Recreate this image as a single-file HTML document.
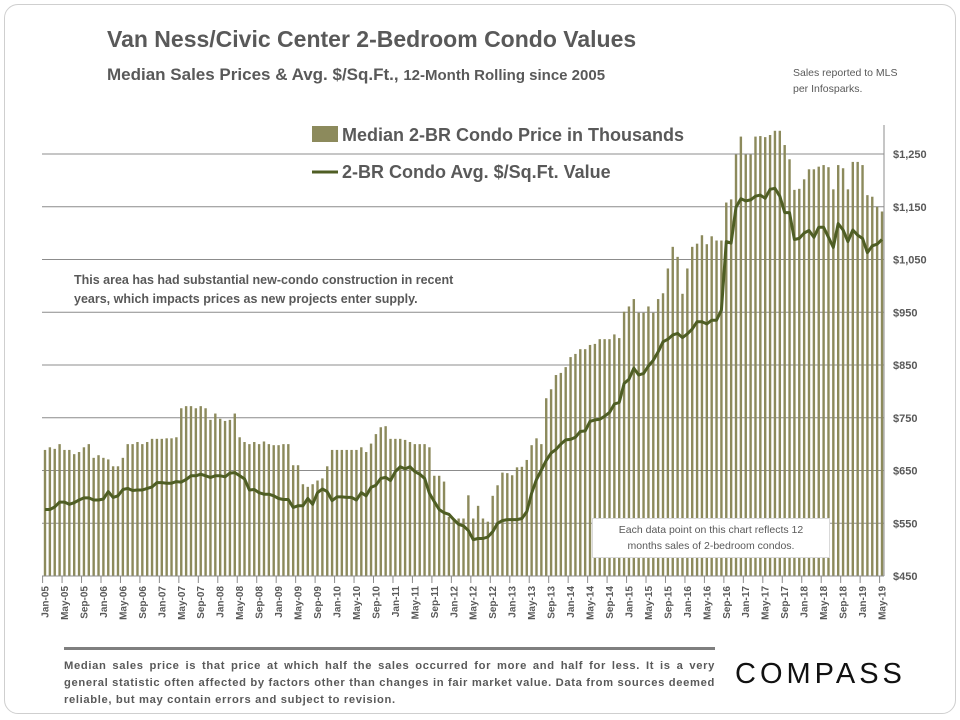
<!DOCTYPE html>
<html><head><meta charset="utf-8">
<style>
html,body{margin:0;padding:0;background:#fff;}
body{width:960px;height:720px;position:relative;overflow:hidden;font-family:"Liberation Sans",sans-serif;}
.frame{position:absolute;left:4px;top:4px;width:950px;height:708px;border:1px solid #cfcfcf;border-radius:14px;}
.t{position:absolute;color:#595959;font-weight:bold;white-space:nowrap;}
</style></head><body>
<div class="frame"></div>
<div class="t" style="left:107px;top:26px;font-size:23px;">Van Ness/Civic Center 2-Bedroom Condo Values</div>
<div class="t" style="left:107px;top:65px;font-size:17px;">Median Sales Prices &amp; Avg. $/Sq.Ft., <span style="font-size:15px">12-Month Rolling since 2005</span></div>
<div class="t" style="left:793px;top:65px;font-size:10.5px;font-weight:normal;line-height:16px;">Sales reported to MLS<br>per Infosparks.</div>
<div class="t" style="left:74px;top:271px;font-size:12.5px;line-height:19px;">This area has had substantial new-condo construction in recent<br>years, which impacts prices as new projects enter supply.</div>
<svg id="chart" width="960" height="720" style="position:absolute;left:0;top:0"></svg>
<div style="position:absolute;left:592px;top:518px;width:238px;height:40px;background:#fff;border:1px solid #d9d9d9;font-size:10.5px;color:#595959;text-align:center;line-height:16px;padding-top:3px;box-sizing:border-box;">Each data point on this chart reflects 12<br>months sales of 2-bedroom condos.</div>
<div style="position:absolute;left:64px;top:647px;width:651px;border-top:3px solid #7f7f7f;padding-top:8px;font-size:11.2px;letter-spacing:0.65px;font-weight:bold;color:#595959;line-height:17px;text-align:justify;">Median sales price is that price at which half the sales occurred for more and half for less. It is a very general statistic often affected by factors other than changes in fair market value. Data from sources deemed reliable, but may contain errors and subject to revision.</div>
<div style="position:absolute;left:735px;top:658px;font-size:29px;letter-spacing:4px;color:#111;font-family:'Liberation Sans',sans-serif;">COMPASS</div>
<script>
const months=["Jan","May","Sep"];
const priceBars=[689,694,691,700,689,689,681,685,694,700,674,679,674,671,658,658,674,700,700,704,700,704,710,710,710,711,711,713,768,772,772,768,772,768,746,758,748,744,746,758,713,704,700,704,700,705,700,
698,698,700,700,660,660,624,619,624,631,635,658,689,689,689,689,689,689,694,685,701,719,732,734,710,710,710,708,704,700,700,700,694,640,640,629,562,559,559,559,603,559,583,559,553,602,622,
646,645,641,656,657,670,698,711,700,787,804,831,835,846,865,871,880,880,888,890,899,899,899,908,901,951,961,975,949,949,961,949,975,986,1033,1074,1055,985,1033,1074,1080,
1096,1079,1094,1086,1086,1158,1164,1249,1283,1249,1249,1283,1284,1282,1286,1294,1294,1267,1240,1182,1184,1202,1221,1221,1226,1229,1225,1183,1229,1223,1183,1235,1235,1229,1172,1169,1150,1141];
const ppsfLine=[576,576,581,590,590,586,589,594,598,598,594,594,596,610,599,602,614,616,612,613,613,616,619,627,627,626,626,629,628,633,640,640,643,640,637,640,640,638,645,646,640,634,613,614,608,605,605,
602,597,595,595,580,583,583,597,586,608,615,610,593,600,600,599,599,594,608,602,618,622,635,637,631,648,657,653,657,648,643,635,607,591,576,570,567,557,548,545,536,519,521,521,524,534,550,
555,557,557,557,559,572,607,633,651,669,683,690,700,708,709,713,724,725,743,746,747,753,760,776,779,815,823,844,831,834,848,859,875,894,899,907,910,902,909,918,932,932,928,935,935,954,
1084,1081,1149,1165,1161,1163,1170,1172,1166,1183,1185,1170,1139,1139,1088,1090,1100,1105,1092,1111,1111,1092,1073,1118,1106,1084,1106,1096,1090,1063,1076,1079,1088];
const yTicks=[450,550,650,750,850,950,1050,1150,1250];
const startYear=2005;

const svg=document.getElementById('chart');
const NS='http://www.w3.org/2000/svg';
const X0=45,X1=882,Y0=576,YT=154;
const n=priceBars.length;
function x(i){return X0+(X1-X0)*i/(n-1);}
function y(v){return Y0-(v-450)*(Y0-YT)/800;}
function mk(tag,attrs){const e=document.createElementNS(NS,tag);for(const k in attrs)e.setAttribute(k,attrs[k]);svg.appendChild(e);return e;}
yTicks.forEach(v=>{
  if(v>450){const g=mk('line',{x1:42,x2:884,y1:y(v),y2:y(v),stroke:'#8c8c8c','stroke-width':1});
  
  }
  const t=mk('text',{x:893,y:y(v)+4,'font-size':11,'font-weight':'bold',fill:'#595959','font-family':'Liberation Sans, sans-serif'});
  t.textContent='$'+(v>=1000?Math.floor(v/1000)+','+String(v%1000).padStart(3,'0'):v);
  
  
});
const bw=2.4;
priceBars.forEach((v,i)=>{
  const r=mk('rect',{x:x(i)-bw/2,y:y(v),width:bw,height:Y0-y(v),fill:'#8c8a5c'});
  
  
});
const ra=mk('line',{x1:884,x2:884,y1:125,y2:576,stroke:'#8c8c8c','stroke-width':1});


const xa=mk('line',{x1:42,x2:884,y1:576,y2:576,stroke:'#8c8c8c','stroke-width':1});


const pts=ppsfLine.map((v,i)=>x(i).toFixed(1)+','+y(v).toFixed(1)).join(' ');
const pl=mk('polyline',{points:pts,fill:'none',stroke:'#4f5e24','stroke-width':3,'stroke-linejoin':'round'});


for(let i=0;i<n;i+=4){
  const tk=mk('line',{x1:x(i)-2.4,x2:x(i)-2.4,y1:576,y2:583,stroke:'#8c8c8c'});
  
  
  const yr=startYear+Math.floor(i/12);
  const lab=months[(i%12)/4]+'-'+String(yr%100).padStart(2,'0');
  const t=mk('text',{x:0,y:0,transform:`translate(${x(i)+3.5},586) rotate(-90)`,'text-anchor':'end','font-size':10,'font-weight':'bold',fill:'#595959','font-family':'Liberation Sans, sans-serif'});
  t.textContent=lab;
  
  
}
const l1=mk('rect',{x:312,y:126,width:26,height:16,fill:'#8c8a5c'});


const l1t=mk('text',{x:342,y:141,'font-size':18,'font-weight':'bold',fill:'#595959','font-family':'Liberation Sans, sans-serif'});
l1t.textContent='Median 2-BR Condo Price in Thousands';


const l2=mk('line',{x1:312,x2:338,y1:172,y2:172,stroke:'#4f5e24','stroke-width':3});


const l2t=mk('text',{x:342,y:178,'font-size':18,'font-weight':'bold',fill:'#595959','font-family':'Liberation Sans, sans-serif'});
l2t.textContent='2-BR Condo Avg. $/Sq.Ft. Value';


</script>
</body></html>
